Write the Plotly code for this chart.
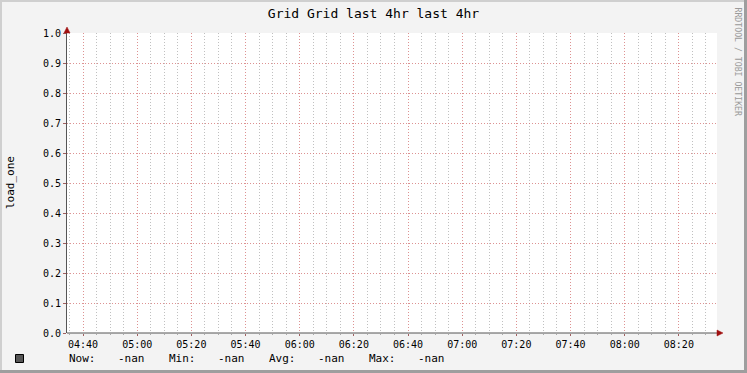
import plotly.graph_objects as go

# ---- data ----
times = ["2024-01-01 04:40", "2024-01-01 05:00", "2024-01-01 05:20", "2024-01-01 05:40",
         "2024-01-01 06:00", "2024-01-01 06:20", "2024-01-01 06:40", "2024-01-01 07:00",
         "2024-01-01 07:20", "2024-01-01 07:40", "2024-01-01 08:00", "2024-01-01 08:20"]
load_one = [None, None, None, None, None, None, None, None, None, None, None, None]
stat_labels = ["Now:", "Min:", "Avg:", "Max:"]
stat_values = ["-nan", "-nan", "-nan", "-nan"]
y_ticks = [0.0, 0.1, 0.2, 0.3, 0.4, 0.5, 0.6, 0.7, 0.8, 0.9, 1.0]
title_text = "Grid Grid last 4hr last 4hr"
y_title = "load_one"
x_range = ["2024-01-01 04:34:05", "2024-01-01 08:34:05"]

W, H = 747, 373
L, R, T, B = 67, 30, 33, 40
PW, PH = W - L - R, H - T - B
MONO = "DejaVu Sans Mono"


def px(x):
    return (x - L) / PW


def py(y):
    return 1 - (y - T) / PH


fig = go.Figure()
fig.add_trace(go.Scatter(x=times, y=load_one, mode="lines",
                         line=dict(color="#555555", width=1), showlegend=False,
                         connectgaps=False))

shapes = []
# frame of the image
shapes.append(dict(type="line", xref="paper", yref="paper", x0=px(0), x1=px(W), y0=py(1), y1=py(1),
                   line=dict(color="#CFCFCF", width=2)))
shapes.append(dict(type="line", xref="paper", yref="paper", x0=px(1), x1=px(1), y0=py(0), y1=py(H),
                   line=dict(color="#CFCFCF", width=2)))
shapes.append(dict(type="line", xref="paper", yref="paper", x0=px(745.5), x1=px(745.5), y0=py(0), y1=py(H),
                   line=dict(color="#9E9E9E", width=3)))
shapes.append(dict(type="line", xref="paper", yref="paper", x0=px(0), x1=px(W), y0=py(371.5), y1=py(371.5),
                   line=dict(color="#9E9E9E", width=3)))
# axis extension and arrows
shapes.append(dict(type="line", xref="paper", yref="paper", x0=px(L), x1=px(720), y0=0, y1=0,
                   line=dict(color="#555555", width=1)))
shapes.append(dict(type="path", xref="paper", yref="paper",
                   path=f"M {px(717)},{py(330)} L {px(723)},{py(333)} L {px(717)},{py(336)} Z",
                   fillcolor="#A01010", line=dict(color="#A01010", width=0.5)))
shapes.append(dict(type="path", xref="paper", yref="paper",
                   path=f"M {px(64)},{py(33)} L {px(67)},{py(27)} L {px(70)},{py(33)} Z",
                   fillcolor="#A01010", line=dict(color="#A01010", width=0.5)))
# legend swatch
shapes.append(dict(type="rect", xref="paper", yref="paper", x0=px(15.5), x1=px(23.5), y0=py(354.5), y1=py(362.5),
                   fillcolor="#555555", line=dict(color="#000000", width=1)))

annotations = []
annotations.append(dict(text=y_title, xref="paper", yref="paper", x=px(10), y=py(183), textangle=-90,
                        showarrow=False, font=dict(family=MONO, size=11, color="#000000"),
                        xanchor="center", yanchor="middle"))
annotations.append(dict(text="RRDTOOL / TOBI OETIKER", xref="paper", yref="paper", x=px(738), y=py(5),
                        textangle=90, showarrow=False, font=dict(family=MONO, size=8.2, color="#9A9A9A"),
                        xanchor="center", yanchor="top"))
for i, (lab, val) in enumerate(zip(stat_labels, stat_values)):
    annotations.append(dict(text=lab, xref="paper", yref="paper", x=px(67 + 100 * i), y=py(358),
                            showarrow=False, font=dict(family=MONO, size=11, color="#000000"),
                            xanchor="left", yanchor="middle"))
    annotations.append(dict(text=val, xref="paper", yref="paper", x=px(116 + 100 * i), y=py(358),
                            showarrow=False, font=dict(family=MONO, size=11, color="#000000"),
                            xanchor="left", yanchor="middle"))

MAJOR = "rgba(210,110,110,0.75)"
MINOR = "rgba(165,165,165,0.7)"

fig.update_layout(
    width=W, height=H,
    margin=dict(l=L, r=R, t=T, b=B, pad=0),
    paper_bgcolor="#F3F3F3", plot_bgcolor="#FFFFFF",
    title=dict(text=title_text, x=0.5, xref="container", xanchor="center",
               y=1 - 13 / H, yref="container", yanchor="middle",
               font=dict(family=MONO, size=13, color="#000000")),
    shapes=shapes, annotations=annotations, showlegend=False,
    xaxis=dict(type="date", range=x_range, tickformat="%H:%M", tick0="2024-01-01 04:40",
               dtick=20 * 60 * 1000, showgrid=True, gridcolor=MAJOR, griddash="1px,2px",
               gridwidth=1, ticks="outside", ticklen=2, tickcolor="#A06060",
               tickfont=dict(family=MONO, size=10, color="#000000"),
               showline=False, zeroline=False, fixedrange=True,
               minor=dict(dtick=5 * 60 * 1000, tick0="2024-01-01 04:40", showgrid=True,
                          gridcolor=MINOR, griddash="1px,2px", gridwidth=1,
                          ticks="outside", ticklen=1, tickcolor="#AAAAAA")),
    yaxis=dict(range=[0, 1], tickvals=y_ticks, tickformat=".1f", showgrid=True,
               gridcolor=MAJOR, griddash="1px,2px", gridwidth=1,
               ticks="outside", ticklen=3, tickcolor="#A06060",
               tickfont=dict(family=MONO, size=10, color="#000000"),
               showline=True, linecolor="#555555", linewidth=1, zeroline=False, fixedrange=True),
)

fig.write_html("out.html")
